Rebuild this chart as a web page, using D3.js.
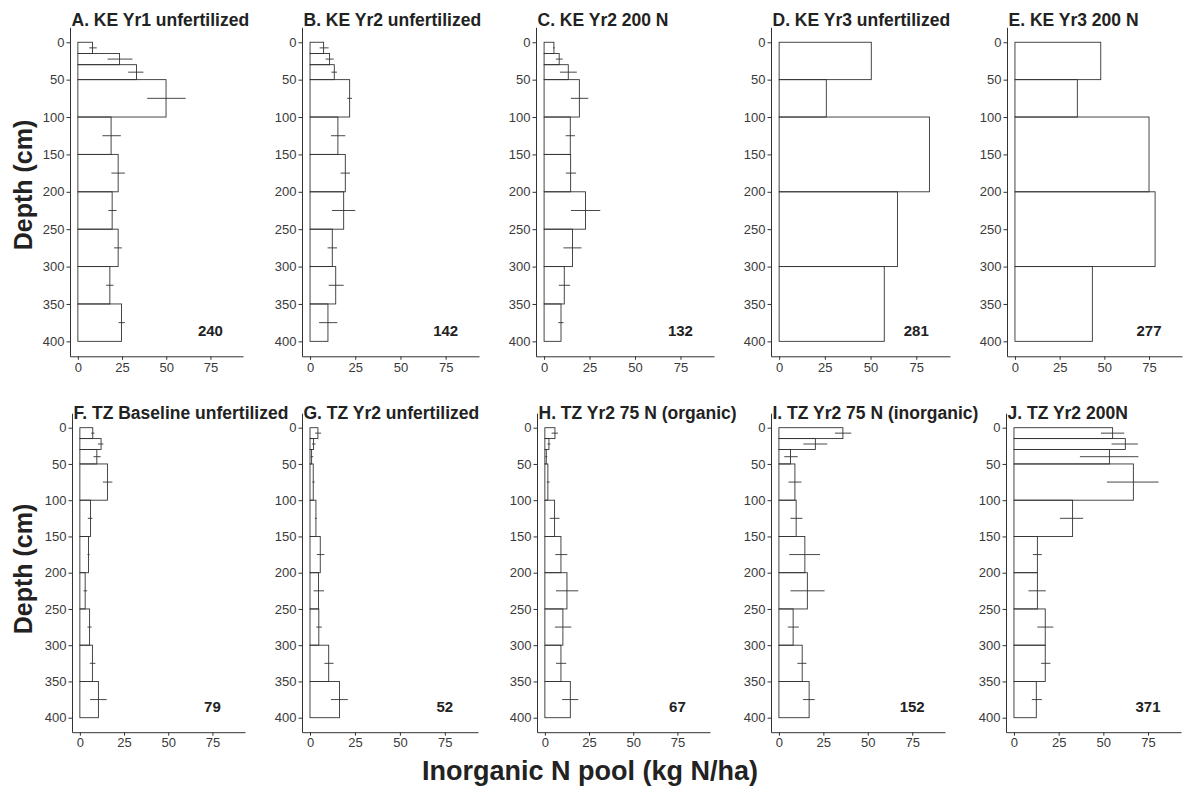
<!DOCTYPE html>
<html><head><meta charset="utf-8">
<script src="https://cdn.jsdelivr.net/npm/d3@7"></script>
<style>
html,body{margin:0;padding:0;background:#fff;}
svg{display:block;font-family:"Liberation Sans",Arial,Helvetica,sans-serif;}
</style></head>
<body><svg id="chart" width="1184" height="788"></svg>
<script>
// ---------------- DATA ----------------
const layerTop10 = [0, 15, 30, 50, 100, 150, 200, 250, 300, 350];
const layerBottom10 = [15, 30, 50, 100, 150, 200, 250, 300, 350, 400];
const layerTop5 = [0, 50, 100, 200, 300];
const layerBottom5 = [50, 100, 200, 300, 400];

const panelTitles = ["A. KE Yr1 unfertilized", "B. KE Yr2 unfertilized", "C. KE Yr2 200 N",
  "D. KE Yr3 unfertilized", "E. KE Yr3 200 N", "F. TZ Baseline unfertilized",
  "G. TZ Yr2 unfertilized", "H. TZ Yr2 75 N (organic)", "I. TZ Yr2 75 N (inorganic)", "J. TZ Yr2 200N"];
const panelTotals = ["240", "142", "132", "281", "277", "79", "52", "67", "152", "371"];

// mean inorganic N pool per layer (kg N/ha), and error bar low / high
const poolA = [8.3, 23.6, 33.2, 49.9, 18.8, 22.8, 19.4, 22.8, 18.1, 24.7];
const lowA  = [6.4, 16.8, 28.5, 39.2, 13.9, 19.0, 17.3, 20.5, 16.0, 23.0];
const highA = [10.7, 30.9, 37.1, 61.0, 24.3, 26.6, 21.9, 24.9, 20.2, 26.6];

const poolB = [7.5, 10.8, 13.4, 21.9, 15.4, 19.5, 18.6, 12.3, 14.2, 9.9];
const lowB  = [5.3, 8.6, 11.8, 20.6, 11.6, 16.9, 12.1, 9.7, 10.3, 5.0];
const highB = [10.3, 13.1, 14.9, 23.2, 19.5, 22.1, 25.0, 14.9, 18.6, 15.1];

const poolC = [5.4, 8.3, 13.3, 19.4, 14.4, 14.6, 22.8, 15.6, 11.1, 9.3];
const lowC  = [5.0, 6.5, 8.7, 14.8, 11.9, 12.0, 14.8, 10.6, 8.1, 7.8];
const highC = [5.9, 10.2, 18.0, 24.3, 17.0, 17.6, 30.9, 20.6, 14.3, 10.7];

const poolD = [50.4, 25.8, 82.2, 64.7, 57.5];
const poolE = [48.0, 34.9, 75.0, 78.4, 43.3];

const poolF = [7.3, 12.0, 9.6, 15.6, 6.0, 4.9, 3.0, 5.5, 7.1, 10.5];
const lowF  = [6.4, 10.2, 7.7, 13.0, 4.5, 4.3, 2.1, 4.3, 5.6, 5.8];
const highF = [8.3, 13.3, 11.8, 18.4, 7.1, 5.5, 4.1, 6.6, 8.8, 15.2];

const poolG = [4.4, 2.0, 0.9, 1.8, 3.3, 5.7, 4.7, 4.9, 10.4, 16.4];
const lowG  = [2.9, 1.1, 0.4, 1.3, 2.7, 3.8, 2.0, 3.5, 8.0, 11.7];
const highG = [6.2, 3.1, 1.8, 2.6, 3.8, 8.0, 7.8, 6.6, 13.1, 21.0];

const poolH = [5.7, 2.3, 0.8, 1.7, 5.5, 9.1, 12.5, 10.2, 9.1, 14.4];
const lowH  = [3.8, 1.5, 0.2, 1.1, 2.8, 5.9, 6.3, 5.7, 6.3, 9.8];
const highH = [7.4, 3.2, 1.3, 2.7, 8.3, 12.7, 18.9, 15.0, 12.1, 18.9];

const poolI = [36.0, 20.5, 6.5, 9.0, 9.7, 14.6, 16.0, 8.0, 13.1, 17.0];
const lowI  = [31.5, 13.8, 3.0, 5.4, 6.5, 5.8, 6.5, 5.0, 10.4, 13.6];
const highI = [40.7, 27.2, 10.6, 12.7, 13.2, 23.1, 25.7, 11.2, 15.5, 20.1];

const poolJ = [55.2, 62.3, 53.4, 66.8, 32.8, 13.1, 13.1, 17.5, 17.5, 12.5];
const lowJ  = [48.7, 54.6, 36.9, 52.0, 25.7, 10.6, 8.1, 13.1, 15.2, 10.0];
const highJ = [61.7, 69.3, 69.6, 80.9, 38.7, 15.6, 17.8, 22.0, 20.4, 15.6];

const xTickValues = [0, 25, 50, 75];
const yTickValues = [0, 50, 100, 150, 200, 250, 300, 350, 400];
const xAxisTitle = "Inorganic N pool (kg N/ha)";
const yAxisTitle = "Depth (cm)";

// ---------------- LAYOUT ----------------
const panelData = [
  {tops: layerTop10, bots: layerBottom10, v: poolA, lo: lowA, hi: highA},
  {tops: layerTop10, bots: layerBottom10, v: poolB, lo: lowB, hi: highB},
  {tops: layerTop10, bots: layerBottom10, v: poolC, lo: lowC, hi: highC},
  {tops: layerTop5, bots: layerBottom5, v: poolD, lo: null, hi: null},
  {tops: layerTop5, bots: layerBottom5, v: poolE, lo: null, hi: null},
  {tops: layerTop10, bots: layerBottom10, v: poolF, lo: lowF, hi: highF},
  {tops: layerTop10, bots: layerBottom10, v: poolG, lo: lowG, hi: highG},
  {tops: layerTop10, bots: layerBottom10, v: poolH, lo: lowH, hi: highH},
  {tops: layerTop10, bots: layerBottom10, v: poolI, lo: lowI, hi: highI},
  {tops: layerTop10, bots: layerBottom10, v: poolJ, lo: lowJ, hi: highJ}
];
const boxes = [
  {l: 70, r: 243, t: 27.3, b: 356.3},
  {l: 302, r: 479, t: 27.3, b: 356.3},
  {l: 536, r: 714, t: 27.3, b: 356.3},
  {l: 771, r: 950, t: 27.3, b: 356.3},
  {l: 1007, r: 1182, t: 27.3, b: 356.3},
  {l: 72, r: 245, t: 413.2, b: 732.2},
  {l: 302, r: 478, t: 413.2, b: 732.2},
  {l: 537, r: 710, t: 413.2, b: 732.2},
  {l: 771, r: 945, t: 413.2, b: 732.2},
  {l: 1006, r: 1181, t: 413.2, b: 732.2}
];
const xDomain = [-4.45, 93.45];
const yDomain = [-20, 420];
const ink = "#333333";
const tickInk = "#3a3a3a";

const svg = d3.select("#chart");

panelData.forEach((pd, i) => {
  const bx = boxes[i];
  const xs = d3.scaleLinear().domain(xDomain).range([bx.l, bx.r]);
  const ys = d3.scaleLinear().domain(yDomain).range([bx.t, bx.b]);
  const g = svg.append("g");

  const layers = pd.v.map((v, k) => ({v: v, top: pd.tops[k], bot: pd.bots[k],
    lo: pd.lo ? pd.lo[k] : null, hi: pd.hi ? pd.hi[k] : null}));

  g.selectAll("rect.layer").data(layers).enter().append("rect")
    .attr("class", "layer")
    .attr("x", xs(0)).attr("y", d => ys(d.top))
    .attr("width", d => xs(d.v) - xs(0))
    .attr("height", d => ys(d.bot) - ys(d.top))
    .attr("fill", "none").attr("stroke", ink).attr("stroke-width", 0.9);

  if (pd.lo) {
    g.selectAll("line.err").data(layers).enter().append("line")
      .attr("class", "err")
      .attr("x1", d => xs(d.lo)).attr("x2", d => xs(d.hi))
      .attr("y1", d => ys((d.top + d.bot) / 2)).attr("y2", d => ys((d.top + d.bot) / 2))
      .attr("stroke", ink).attr("stroke-width", 0.9);
  }

  const yAx = g.append("g").attr("transform", `translate(${bx.l},0)`)
    .call(d3.axisLeft(ys).tickValues(yTickValues).tickSize(3.5).tickSizeOuter(0).tickPadding(2));
  const xAx = g.append("g").attr("transform", `translate(0,${bx.b})`)
    .call(d3.axisBottom(xs).tickValues(xTickValues).tickSize(3.5).tickSizeOuter(0).tickPadding(2.5));
  [yAx, xAx].forEach(ax => {
    ax.select(".domain").attr("stroke", ink).attr("stroke-width", 1);
    ax.selectAll(".tick line").attr("stroke", ink).attr("stroke-width", 1);
    ax.selectAll(".tick text").attr("fill", tickInk).style("font-size", "13px")
      .style("font-family", "'Liberation Sans', Arial, sans-serif");
  });

  g.append("text").attr("x", xs(75)).attr("y", ys(385))
    .attr("text-anchor", "middle").attr("dominant-baseline", "central")
    .style("font-weight", "bold").style("font-size", "15px").attr("fill", "#222")
    .text(panelTotals[i]);

  g.append("text").attr("x", bx.l + 1.5).attr("y", i < 5 ? 25.5 : 418.5)
    .style("font-weight", "bold").style("font-size", "17.5px").attr("fill", "#222")
    .text(panelTitles[i]);
});

svg.append("text").attr("transform", "translate(32,185) rotate(-90)")
  .attr("text-anchor", "middle").style("font-weight", "bold").style("font-size", "25px")
  .attr("fill", "#222").text(yAxisTitle);
svg.append("text").attr("transform", "translate(32,569) rotate(-90)")
  .attr("text-anchor", "middle").style("font-weight", "bold").style("font-size", "25px")
  .attr("fill", "#222").text(yAxisTitle);
svg.append("text").attr("x", 590).attr("y", 780)
  .attr("text-anchor", "middle").style("font-weight", "bold").style("font-size", "27px")
  .attr("fill", "#222").text(xAxisTitle);
</script></body></html>
